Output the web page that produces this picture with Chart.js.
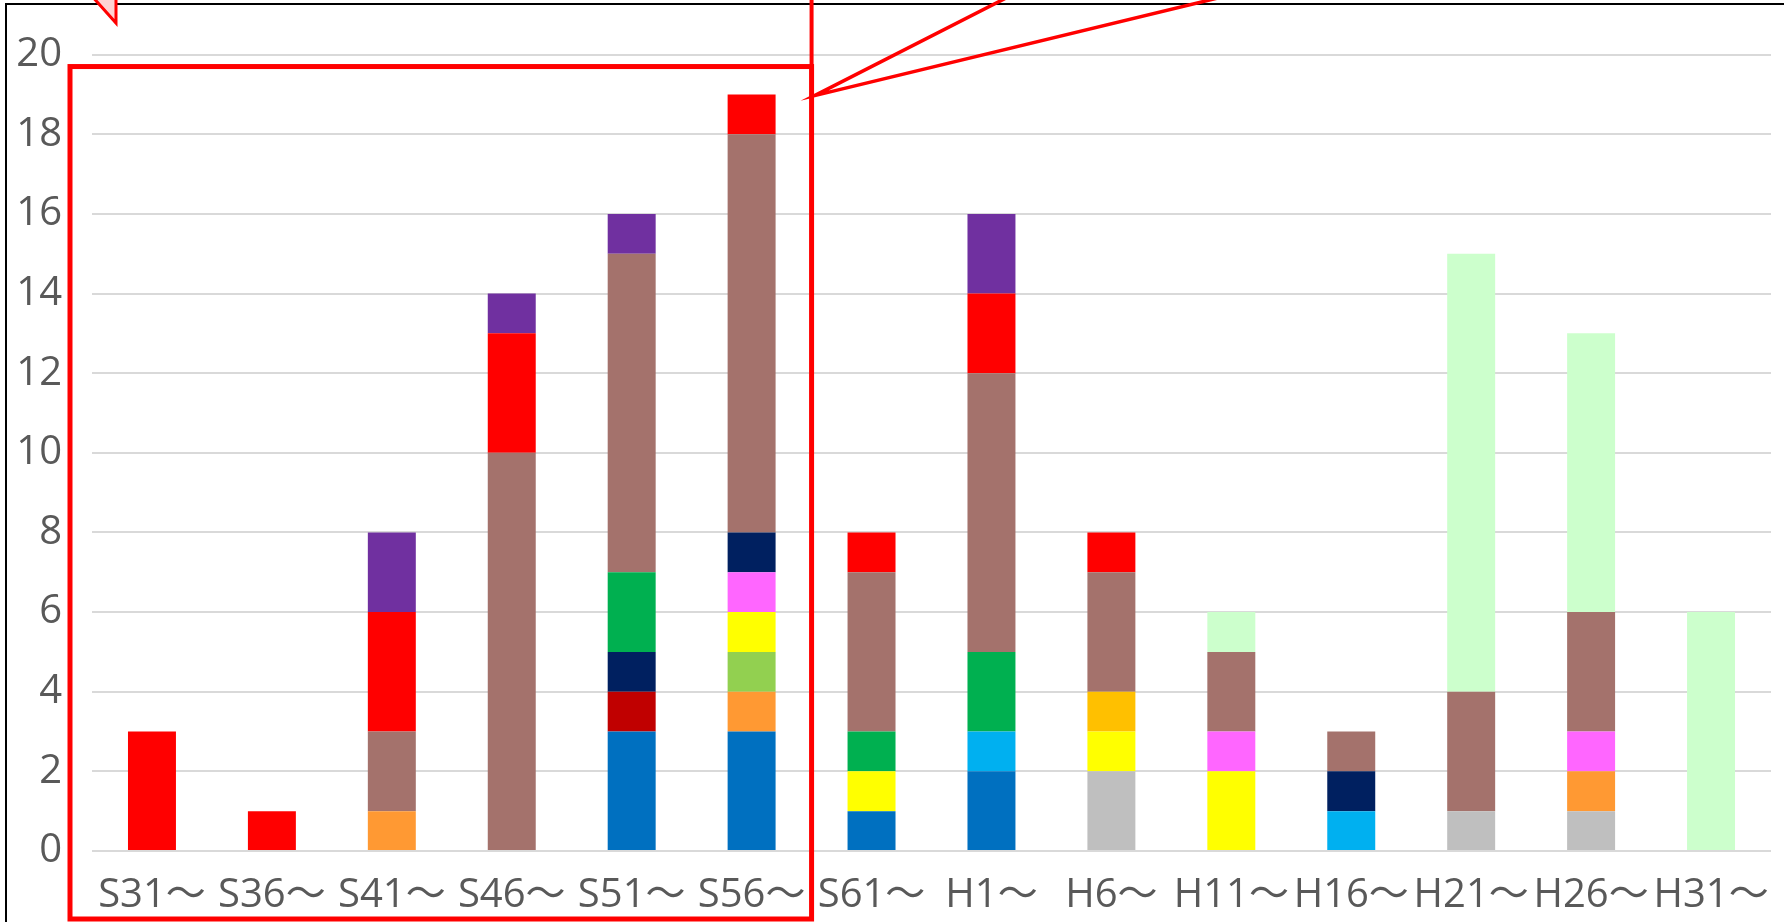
<!DOCTYPE html>
<html>
<head>
<meta charset="utf-8">
<script src="https://cdn.jsdelivr.net/npm/chart.js@4/dist/chart.umd.min.js"></script>
<style>
  html, body { margin: 0; padding: 0; background: #ffffff; }
  #wrap { width: 1784px; height: 922px; position: relative; }
</style>
</head>
<body>
<div id="wrap"><canvas id="c" width="1784" height="922"></canvas></div>
<script>
// ---- data ----
const categories = ["S31～","S36～","S41～","S46～","S51～","S56～","S61～","H1～","H6～","H11～","H16～","H21～","H26～","H31～"];
const yTicks = [0, 2, 4, 6, 8, 10, 12, 14, 16, 18, 20];

const grey       = [0,0,0,0,0,0,0,0,2,0,0,1,1,0];
const blue       = [0,0,0,0,3,3,1,2,0,0,0,0,0,0];
const darkRed    = [0,0,0,0,1,0,0,0,0,0,0,0,0,0];
const orange     = [0,0,1,0,0,1,0,0,0,0,0,0,1,0];
const lightGreen = [0,0,0,0,0,1,0,0,0,0,0,0,0,0];
const yellow     = [0,0,0,0,0,1,1,0,1,2,0,0,0,0];
const gold       = [0,0,0,0,0,0,0,0,1,0,0,0,0,0];
const pink       = [0,0,0,0,0,1,0,0,0,1,0,0,1,0];
const lightBlue  = [0,0,0,0,0,0,0,1,0,0,1,0,0,0];
const navy       = [0,0,0,0,1,1,0,0,0,0,1,0,0,0];
const green      = [0,0,0,0,2,0,1,2,0,0,0,0,0,0];
const brown      = [0,0,2,10,8,10,4,7,3,2,1,3,3,0];
const red        = [3,1,3,3,0,1,1,2,1,0,0,0,0,0];
const purple     = [0,0,2,1,1,0,0,2,0,0,0,0,0,0];
const paleGreen  = [0,0,0,0,0,0,0,0,0,1,0,11,7,6];

const seriesList = [
  ["系列1", grey, "#BFBFBF"],
  ["系列2", blue, "#0070C0"],
  ["系列3", darkRed, "#C00000"],
  ["系列4", orange, "#FF9933"],
  ["系列5", lightGreen, "#92D050"],
  ["系列6", yellow, "#FFFF00"],
  ["系列7", gold, "#FFC000"],
  ["系列8", pink, "#FF66FF"],
  ["系列9", lightBlue, "#00B0F0"],
  ["系列10", navy, "#002060"],
  ["系列11", green, "#00B050"],
  ["系列12", brown, "#A4726C"],
  ["系列13", red, "#FF0000"],
  ["系列14", purple, "#7030A0"],
  ["系列15", paleGreen, "#CCFFCC"]
];

const FONT = '"Open Sans", "Noto Sans CJK JP", sans-serif';

const overlay = {
  id: 'overlay',
  afterDraw(chart) {
    const ctx = chart.ctx;
    const xs = chart.scales.x, ys = chart.scales.y;
    ctx.save();
    // outer border (chart area frame of the original)
    ctx.strokeStyle = '#000000';
    ctx.lineWidth = 2;
    ctx.strokeRect(6, 4, 3000, 3000);

    // small callout pointer at top-left
    ctx.beginPath();
    ctx.moveTo(90, -6);
    ctx.lineTo(116, 23);
    ctx.lineTo(116, -6);
    ctx.closePath();
    ctx.fillStyle = '#FFD3D3';
    ctx.fill();
    ctx.strokeStyle = '#FF0000';
    ctx.lineWidth = 3;
    ctx.lineJoin = 'miter';
    ctx.stroke();

    // red highlight rectangle around the first six categories
    const rightX = (xs.getPixelForValue(5) + xs.getPixelForValue(6)) / 2;
    const leftX = xs.left - 22;
    const topY = ys.getPixelForValue(19.7);
    ctx.strokeStyle = '#FF0000';
    ctx.lineWidth = 5;
    ctx.strokeRect(leftX, topY, rightX - leftX, 919 - topY);

    // callout pointer from the top
    ctx.lineWidth = 4;
    ctx.beginPath();
    ctx.moveTo(rightX, -5);
    ctx.lineTo(rightX, topY);
    ctx.stroke();
    const tipX = rightX + 3, tipY = ys.getPixelForValue(18.97);
    ctx.lineWidth = 3.5;
    ctx.beginPath();
    ctx.moveTo(1008, -3);
    ctx.lineTo(tipX, tipY);
    ctx.lineTo(1222, -3);
    ctx.stroke();
    ctx.restore();
  }
};

new Chart(document.getElementById('c'), {
  type: 'bar',
  data: {
    labels: categories,
    datasets: seriesList.map(([name, values, color]) => ({
      label: name,
      data: values,
      backgroundColor: color,
      borderWidth: 0,
      categoryPercentage: 1.0,
      barPercentage: 0.4
    }))
  },
  options: {
    responsive: false,
    animation: false,
    devicePixelRatio: 1,
    layout: { padding: { left: 0, right: 13, top: 54.6, bottom: 0 } },
    plugins: { legend: { display: false }, tooltip: { enabled: false }, title: { display: false } },
    scales: {
      x: {
        stacked: true,
        grid: { display: false, drawTicks: false },
        border: { display: false },
        ticks: {
          color: '#595959',
          font: { family: FONT, size: 40 },
          padding: 21,
          maxRotation: 0,
          autoSkip: false
        },
        afterFit(scale) {
          scale.height = 71;
          scale.paddingLeft = 0;
          scale.paddingRight = 0;
        }
      },
      y: {
        stacked: true,
        min: 0,
        max: 20,
        afterBuildTicks(scale) { scale.ticks = yTicks.map(v => ({ value: v })); },
        grid: { color: '#D9D9D9', lineWidth: 2, drawTicks: false },
        border: { display: false },
        ticks: {
          color: '#595959',
          font: { family: FONT, size: 40 },
          padding: 30
        },
        afterFit(scale) { scale.width = 92; scale.paddingTop = 0; scale.paddingBottom = 0; }
      }
    }
  },
  plugins: [overlay]
});
</script>
</body>
</html>
